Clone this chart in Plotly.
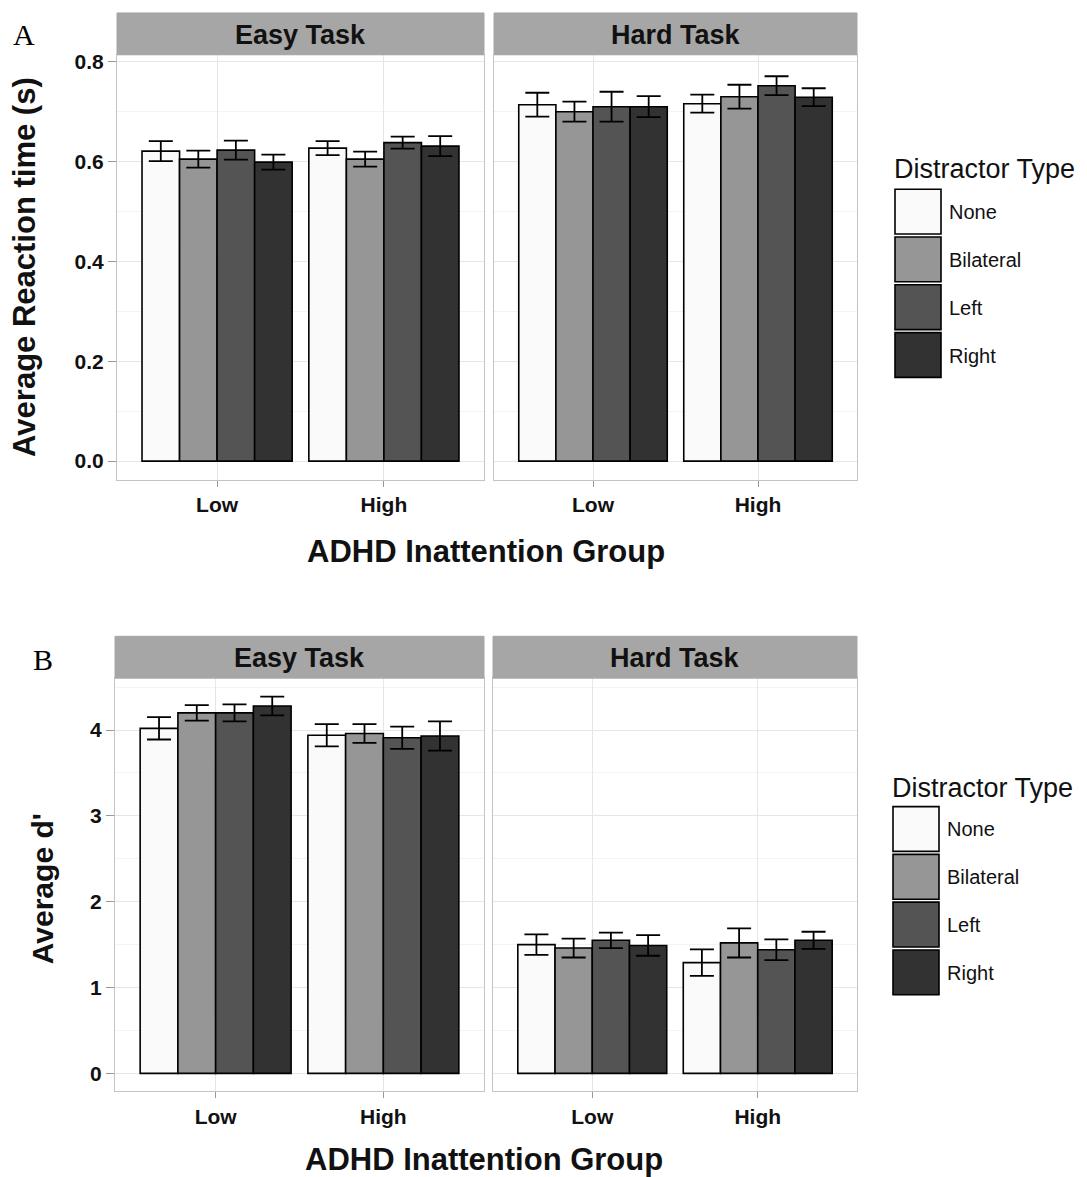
import plotly.graph_objects as go

# ---------------- data ----------------
groups = ["Low", "High"]
distractors = ["None", "Bilateral", "Left", "Right"]
fill_colors = ["#fafafa", "#969696", "#545454", "#323232"]

rt_easy = {"None": [0.621, 0.627], "Bilateral": [0.605, 0.605], "Left": [0.623, 0.638], "Right": [0.599, 0.631]}
rt_easy_err = {"None": [0.020, 0.014], "Bilateral": [0.017, 0.015], "Left": [0.019, 0.012], "Right": [0.015, 0.020]}
rt_hard = {"None": [0.714, 0.716], "Bilateral": [0.700, 0.730], "Left": [0.710, 0.752], "Right": [0.710, 0.729]}
rt_hard_err = {"None": [0.024, 0.018], "Bilateral": [0.020, 0.024], "Left": [0.030, 0.019], "Right": [0.021, 0.018]}

d_easy = {"None": [4.02, 3.94], "Bilateral": [4.20, 3.96], "Left": [4.20, 3.91], "Right": [4.28, 3.93]}
d_easy_err = {"None": [0.13, 0.13], "Bilateral": [0.09, 0.11], "Left": [0.10, 0.13], "Right": [0.11, 0.17]}
d_hard = {"None": [1.50, 1.29], "Bilateral": [1.46, 1.52], "Left": [1.55, 1.44], "Right": [1.49, 1.55]}
d_hard_err = {"None": [0.12, 0.155], "Bilateral": [0.11, 0.17], "Left": [0.09, 0.12], "Right": [0.12, 0.10]}

facet_labels = ["Easy Task", "Hard Task"]
rt_ticks = [0.0, 0.2, 0.4, 0.6, 0.8]
d_ticks = [0, 1, 2, 3, 4]

# ---------------- layout geometry (pixels of the 1087x1177 page) ----------------
W, H = 1087, 1177
FONT = "Liberation Sans, Arial, Helvetica, sans-serif"
SERIF = "Liberation Serif, Times New Roman, serif"


def px_x(p):
    return p / W


def px_y(p):
    return 1 - p / H


fig = go.Figure()

panels = [
    (rt_easy, rt_easy_err, "x", "y"),
    (rt_hard, rt_hard_err, "x2", "y2"),
    (d_easy, d_easy_err, "x3", "y3"),
    (d_hard, d_hard_err, "x4", "y4"),
]

for data, err, xa, ya in panels:
    for name, col in zip(distractors, fill_colors):
        fig.add_trace(go.Bar(
            x=groups, y=data[name], name=name,
            marker=dict(color=col, line=dict(color="black", width=1.6)),
            error_y=dict(type="data", array=err[name], color="black", thickness=1.8, width=12),
            xaxis=xa, yaxis=ya, showlegend=False,
        ))

x_dom = {"x": (117, 484), "x2": (494, 857), "x3": (115, 484), "x4": (493, 857)}
y_dom_A = (50, 477)
y_dom_B = (676, 1091)

grid_major = "#e6e6e6"
grid_minor = "#f3f3f3"
border = "#c4c4c4"
TICKFONT = dict(family=FONT, size=21, color="#111111", weight="bold")

common_x = dict(
    type="category", range=[-0.6, 1.6], showgrid=True, gridcolor=grid_major, gridwidth=1.2,
    showline=True, linecolor=border, mirror=True, linewidth=1,
    ticks="outside", ticklen=6, tickcolor="#999999",
    tickfont=TICKFONT, zeroline=False, fixedrange=True,
)

layout_axes = {}
for key, (a, b) in x_dom.items():
    ax = dict(common_x)
    ax["domain"] = [px_x(a), px_x(b)]
    ax["anchor"] = "y" + key[1:]
    layout_axes["xaxis" + ("" if key == "x" else key[1:])] = ax


def y_axis(dom, rng, ticks, labels, show_labels, minor_dtick):
    return dict(
        domain=[px_y(dom[1]), px_y(dom[0])], range=rng,
        tickvals=ticks, ticktext=labels, showticklabels=show_labels,
        showgrid=True, gridcolor=grid_major, gridwidth=1.2,
        minor=dict(showgrid=True, gridcolor=grid_minor, gridwidth=1, dtick=minor_dtick, ticks=""),
        showline=True, linecolor=border, mirror=True, linewidth=1,
        ticks="outside" if show_labels else "", ticklen=8, tickcolor="#999999",
        tickfont=TICKFONT, zeroline=False, fixedrange=True,
    )


rt_labels = [f"{v:.1f}" for v in rt_ticks]
d_labels = [str(v) for v in d_ticks]
layout_axes["yaxis"] = y_axis(y_dom_A, [-0.0378, 0.814], rt_ticks, rt_labels, True, 0.1)
layout_axes["yaxis2"] = y_axis(y_dom_A, [-0.0378, 0.814], rt_ticks, rt_labels, False, 0.1)
layout_axes["yaxis3"] = y_axis(y_dom_B, [-0.21, 4.605], d_ticks, d_labels, True, 0.5)
layout_axes["yaxis4"] = y_axis(y_dom_B, [-0.21, 4.605], d_ticks, d_labels, False, 0.5)
for k in ["yaxis", "yaxis2", "yaxis3", "yaxis4"]:
    layout_axes[k]["anchor"] = "x" + k[5:]

shapes = []
annotations = []

# facet strips
strips = [(x_dom["x"], (8, 50), facet_labels[0]), (x_dom["x2"], (8, 50), facet_labels[1]),
          (x_dom["x3"], (634, 676), facet_labels[0]), (x_dom["x4"], (634, 676), facet_labels[1])]
for (a, b), (t, btm), label in strips:
    shapes.append(dict(type="rect", xref="paper", yref="paper", x0=px_x(a), x1=px_x(b),
                       y0=px_y(btm), y1=px_y(t), fillcolor="#a6a6a6", line=dict(color="#a6a6a6", width=1), layer="above"))
    annotations.append(dict(xref="paper", yref="paper", x=px_x((a + b) / 2), y=px_y((t + btm) / 2 + 1),
                            text=label, showarrow=False, xanchor="center", yanchor="middle",
                            font=dict(family=FONT, size=27, color="#111111", weight="bold")))

# legends (drawn manually to match the large ggplot keys)
for title_y, box_top, x0 in [(165, 185, 895), (786, 805, 893)]:
    annotations.append(dict(xref="paper", yref="paper", x=px_x(x0 - 3), y=px_y(title_y), text="Distractor Type",
                            showarrow=False, xanchor="left", yanchor="middle",
                            font=dict(family=FONT, size=27, color="#111111")))
    for i, (name, col) in enumerate(zip(distractors, fill_colors)):
        t = box_top + i * 48
        shapes.append(dict(type="rect", xref="paper", yref="paper", x0=px_x(x0), x1=px_x(x0 + 46),
                           y0=px_y(t + 45), y1=px_y(t), fillcolor=col, line=dict(color="black", width=1.6)))
        annotations.append(dict(xref="paper", yref="paper", x=px_x(x0 + 52), y=px_y(t + 23), text=name,
                                showarrow=False, xanchor="left", yanchor="middle",
                                font=dict(family=FONT, size=20, color="#111111")))

# axis titles and panel letters
annotations += [
    dict(xref="paper", yref="paper", x=px_x(25), y=px_y(263), text="Average Reaction time (s)", textangle=-90,
         showarrow=False, xanchor="center", yanchor="middle", font=dict(family=FONT, size=31, color="#111111", weight="bold")),
    dict(xref="paper", yref="paper", x=px_x(42), y=px_y(888), text="Average d'", textangle=-90,
         showarrow=False, xanchor="center", yanchor="middle", font=dict(family=FONT, size=30, color="#111111", weight="bold")),
    dict(xref="paper", yref="paper", x=px_x(486), y=px_y(549), text="ADHD Inattention Group",
         showarrow=False, xanchor="center", yanchor="middle", font=dict(family=FONT, size=31, color="#111111", weight="bold")),
    dict(xref="paper", yref="paper", x=px_x(484), y=px_y(1159), text="ADHD Inattention Group",
         showarrow=False, xanchor="center", yanchor="middle", font=dict(family=FONT, size=31, color="#111111", weight="bold")),
    dict(xref="paper", yref="paper", x=px_x(24), y=px_y(30), text="A",
         showarrow=False, xanchor="center", yanchor="middle", font=dict(family=SERIF, size=30, color="black")),
    dict(xref="paper", yref="paper", x=px_x(43), y=px_y(657), text="B",
         showarrow=False, xanchor="center", yanchor="middle", font=dict(family=SERIF, size=30, color="black")),
]

fig.update_layout(
    width=W, height=H, autosize=False,
    margin=dict(l=0, r=0, t=0, b=0),
    paper_bgcolor="white", plot_bgcolor="white",
    barmode="group", bargap=0.1, bargroupgap=0,
    showlegend=False,
    shapes=shapes, annotations=annotations,
    font=dict(family=FONT),
    **layout_axes,
)

fig.write_html(
    "out.html",
    config={"displayModeBar": False},
    post_script="document.body.style.margin='0';document.body.style.overflow='hidden';",
)
